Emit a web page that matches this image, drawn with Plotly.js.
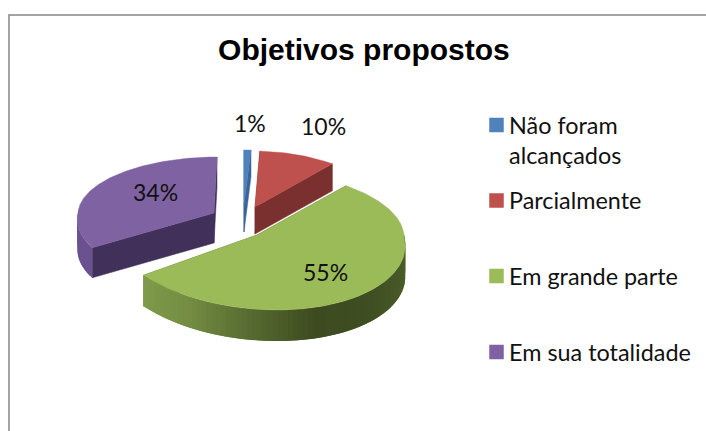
<!DOCTYPE html>
<html><head><meta charset="utf-8">
<script src="https://cdn.plot.ly/plotly-3.0.1.min.js"></script>
<style>html,body{margin:0;padding:0;background:#fff}</style></head>
<body><div id="chart" style="width:706px;height:431px"></div>
<script>
var categories = ["Não foram<br>alcançados", "Parcialmente", "Em grande parte", "Em sua totalidade"];
var values = [1, 10, 55, 34];
var valueLabels = ["1%", "10%", "55%", "34%"];
var chartTitle = "Objetivos propostos";
var topColors = ["#4f81bd", "#be504d", "#9bbb59", "#7f62a1"];
var cutColors = ["#3c6596", "#7a302e", "#5d7335", "#41305a"];
var rimColors = ["#3c6596", "#8a3a37", "#566a30", "#6a5190"];

// projection of each exploded slice of the tilted disc (painted back to front)
var geom = [
  {cx:244, cy:205, rx:111, far:55, near:60, sf:0,  sn:0,   h:27},
  {cx:255, cy:207, rx:125, far:56, near:60, sf:-3, sn:0,   h:27},
  {cx:257, cy:235, rx:147, far:64, near:75, sf:-6, sn:20,  h:31},
  {cx:214, cy:213, rx:136, far:56, near:65, sf:3,  sn:-13, h:30}
];
var paintOrder = [3, 0, 1, 2];
var labelPos = [[250,123],[323,126],[325,272],[155,192]];
var swatchY = [125, 200.5, 276, 352];
var legendLineY = [[125,155],[200],[276],[352]];

var greenStops = [[238,[127,155,74]],[215,[115,141,66]],[190,[86,106,48]],[165,[61,75,32]],[140,[63,78,34]],[100,[77,95,42]],[60,[77,95,42]]];
function greenWall(t){
  for(var i=0;i<greenStops.length-1;i++){
    var a=greenStops[i],b=greenStops[i+1];
    if(t<=a[0]&&t>=b[0]){var f=(a[0]-t)/(a[0]-b[0]);
      return "rgb("+a[1].map(function(c,k){return Math.round(c+(b[1][k]-c)*f)}).join(",")+")";}
  }
  return "rgb(127,155,74)";
}
function rim(g,deg){
  var r=deg*Math.PI/180,s=Math.sin(r),c=Math.cos(r);
  return [g.cx+g.rx*s+(c<0?g.sn*(-c):g.sf*c), g.cy-(c>=0?g.far:g.near)*c];
}
function poly(pts,color,lw){
  var xs=pts.map(function(p){return p[0]}),ys=pts.map(function(p){return p[1]});
  xs.push(xs[0]);ys.push(ys[0]);
  return {type:"scatter",mode:"lines",x:xs,y:ys,fill:"toself",fillcolor:color,
    line:{color:color,width:lw},showlegend:false,hoverinfo:"skip"};
}
var total=values.reduce(function(a,b){return a+b},0);
var starts=[],acc=0;
values.forEach(function(v){starts.push(acc/total*360);acc+=v;});

var traces=[];
paintOrder.forEach(function(i){
  var g=geom[i],a0=starts[i],a1=a0+values[i]/total*360,apex=[g.cx,g.cy],step=2,d;
  // cut faces
  [a0,a1].forEach(function(a){
    var r=rim(g,a);
    traces.push(poly([apex,r,[r[0],r[1]+g.h],[apex[0],apex[1]+g.h]],cutColors[i],0.5));
  });
  // outer wall: overlapping strips, each overpainted by the next, for the gradient
  for(d=a0;d<a1-1e-6;d+=step){
    var e=Math.min(d+step,a1);
    if(Math.cos((d+e)/2*Math.PI/180)<0.05){
      var band=[],t;
      for(t=d;t<Math.min(d+2*step,a1);t+=0.5)band.push(rim(g,t));
      band.push(rim(g,Math.min(d+2*step,a1)));
      var low=band.map(function(p){return [p[0],p[1]+g.h]}).reverse();
      traces.push(poly(band.concat(low),i===2?greenWall((d+e)/2):rimColors[i],0));
    }
  }
  // top face
  var pts=[apex];
  for(d=a0;d<a1;d+=1)pts.push(rim(g,d));
  pts.push(rim(g,a1));
  traces.push(poly(pts,topColors[i],0.4));
});
// legend swatches
categories.forEach(function(c,i){
  traces.push({type:"scatter",mode:"markers",x:[496.5],y:[swatchY[i]],name:c.replace("<br>"," "),
    marker:{symbol:"square",size:14.5,color:topColors[i]},showlegend:false,hoverinfo:"name"});
});

var font="Lato, Carlito, sans-serif";
var ann=[];
values.forEach(function(v,i){
  ann.push({x:labelPos[i][0],y:labelPos[i][1],xref:"x",yref:"y",text:valueLabels[i],showarrow:false,
    xanchor:"center",yanchor:"middle",font:{family:font,size:23,color:"#111"}});
});
categories.forEach(function(c,i){
  c.split("<br>").forEach(function(line,k){
    ann.push({x:507,y:legendLineY[i][k],xref:"x",yref:"y",text:line,showarrow:false,
      xanchor:"left",yanchor:"middle",font:{family:font,size:23.4,color:"#111"}});
  });
});
var layout={width:706,height:431,margin:{l:0,r:0,t:0,b:0},paper_bgcolor:"#fff",plot_bgcolor:"#fff",showlegend:false,
  title:{text:"<b>"+chartTitle+"</b>",x:0.5155,xanchor:"center",y:0.885,yanchor:"middle",font:{family:"Liberation Sans, Arial, sans-serif",size:30,color:"#000"}},
  xaxis:{range:[0,706],visible:false,fixedrange:true},
  yaxis:{range:[431,0],visible:false,fixedrange:true},
  annotations:ann,
  shapes:[{type:"path",path:"M 9 431 L 9 15 L 706 15",xref:"x",yref:"y",line:{color:"#868686",width:1.5}}]
};
Plotly.newPlot("chart",traces,layout,{displayModeBar:false,staticPlot:true});
</script></body></html>
